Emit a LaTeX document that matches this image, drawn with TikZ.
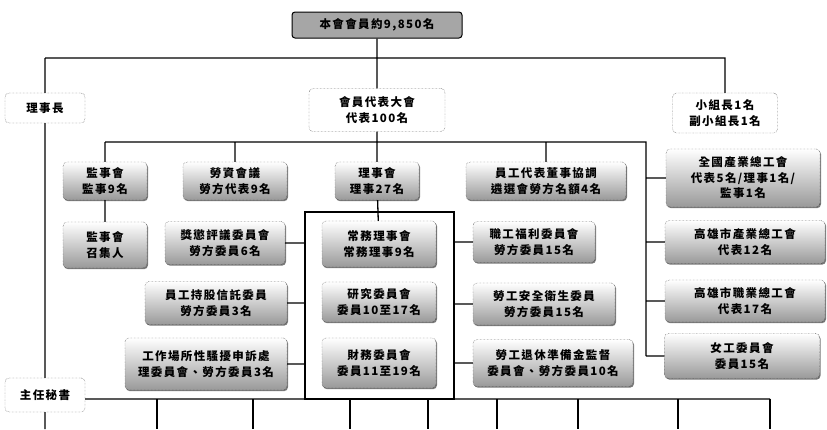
\documentclass[tikz,border=0pt]{standalone}
\usepackage{fontspec}
\setmainfont{Noto Sans CJK TC}[LetterSpace=12]
\usepackage{tikz}
\usetikzlibrary{positioning,shadows,calc}
\tikzset{org node/.style={rounded corners=4pt,draw=black!85,densely dotted,
top color=white,bottom color=black!40,align=center,inner sep=1pt,
font=\fontsize{11.5}{15.5}\selectfont\bfseries,
drop shadow={shadow xshift=1pt,shadow yshift=-1.2pt,opacity=.7,fill=black!75}},
plain node/.style={rounded corners=4pt,draw=black!85,densely dotted,fill=white,
align=center,inner sep=1pt,font=\fontsize{11.5}{15.5}\selectfont\bfseries},
link/.style={draw,line width=1.3pt,solid}}

\begin{document}
\begin{tikzpicture}[x=1pt,y=-1pt]
    \useasboundingbox (0,0) rectangle (827,429);

    \node[rounded corners=3pt,draw=black,line width=1pt,fill=black!35,
          minimum width=170pt,minimum height=26pt,
          font=\fontsize{11.5}{13}\selectfont\bfseries] (1) at (377,25) {本會會員約9,850名};
    \node[plain node,minimum width=80pt,minimum height=30pt] (2) at (45,108) {理事長};
    \node[plain node,minimum width=136pt,minimum height=43pt] (3) at (377,110) {會員代表大會\\代表100名};
    \node[plain node,minimum width=105pt,minimum height=40pt] (4) at (725,113) {小組長1名\\副小組長1名};

            \node[org node,minimum width=84pt,minimum height=38pt] (5) at (105,181) {監事會\\監事9名};
            \node[org node,minimum width=104pt,minimum height=38pt] (6) at (235,181) {勞資會議\\勞方代表9名};
            \node[org node,minimum width=84pt,minimum height=38pt] (7) at (377,181) {理事會\\理事27名};
            \node[org node,minimum width=160pt,minimum height=38pt] (8) at (546,181) {員工代表董事協調\\遴選會勞方名額4名};
            \node[org node,minimum width=154pt,minimum height=58pt] (9) at (743,178) {全國產業總工會\\代表5名/理事1名/\\監事1名};

            \node[org node,minimum width=84pt,minimum height=46pt] (10) at (105,245) {監事會\\召集人};
            \node[org node,minimum width=120pt,minimum height=43pt] (11) at (225,243) {獎懲評議委員會\\勞方委員6名};
            \node[org node,minimum width=114pt,minimum height=46pt] (12) at (379,244) {常務理事會\\常務理事9名};
            \node[org node,minimum width=122pt,minimum height=41pt] (13) at (534,242) {職工福利委員會\\勞方委員15名};
            \node[org node,minimum width=160pt,minimum height=43pt] (14) at (745,242) {高雄市產業總工會\\代表12名};

            \node[org node,minimum width=142pt,minimum height=43pt] (15) at (216,303) {員工持股信託委員\\勞方委員3名};
            \node[org node,minimum width=114pt,minimum height=40pt] (16) at (379,302) {研究委員會\\委員10至17名};
            \node[org node,minimum width=142pt,minimum height=42pt] (17) at (544,304) {勞工安全衛生委員\\勞方委員15名};
            \node[org node,minimum width=160pt,minimum height=42pt] (18) at (745,301) {高雄市職業總工會\\代表17名};

            \node[org node,minimum width=162pt,minimum height=52pt] (19) at (206,364) {工作場所性騷擾申訴處\\理委員會、勞方委員3名};
            \node[org node,minimum width=114pt,minimum height=50pt] (20) at (379,363) {財務委員會\\委員11至19名};
            \node[org node,minimum width=160pt,minimum height=47pt] (21) at (553,363) {勞工退休準備金監督\\委員會、勞方委員10名};
            \node[org node,minimum width=155pt,minimum height=45pt] (22) at (742,356) {女工委員會\\委員15名};

    \node[plain node,minimum width=80pt,minimum height=34pt] (23) at (45,395) {主任秘書};

    % trunk lines
    \coordinate (t) at (377,58);
    \coordinate (m) at (377,142);
    \coordinate (r) at (646,142);
    \coordinate (fa) at (305,212);
    \coordinate (fb) at (454,399);
    \coordinate (b) at (770,399);
    \coordinate (l0) at (45,429);

            \path[link]
            (1)--(t)--(3)
            (2.north|-t)--(4.north|-t)--(4)
            (2.north|-t)--(2)
            (2)--(23)--(l0)
            (3)--(7)--(12)
            (5.north|-m)--(r)--(r|-22)
            (5)--(5.north|-m) (6)--(6.north|-m) (8)--(8.north|-m)
            (5)--(10)
            (9.west-|r)--(9) (14.west-|r)--(14) (18.west-|r)--(18) (22.west-|r)--(22)
            (11)--(11-|fa) (15)--(15-|fa) (19)--(19-|fa)
            (13)--(13-|fb) (17)--(17-|fb) (21)--(21-|fb)
            (23.east|-b)--(b);
    \draw[link] (fa) rectangle (fb);

    \foreach \x in {157,253,350,428,497,578,678,770}
        \draw[link] (\x,399)--(\x,429);

\end{tikzpicture}
\end{document}
